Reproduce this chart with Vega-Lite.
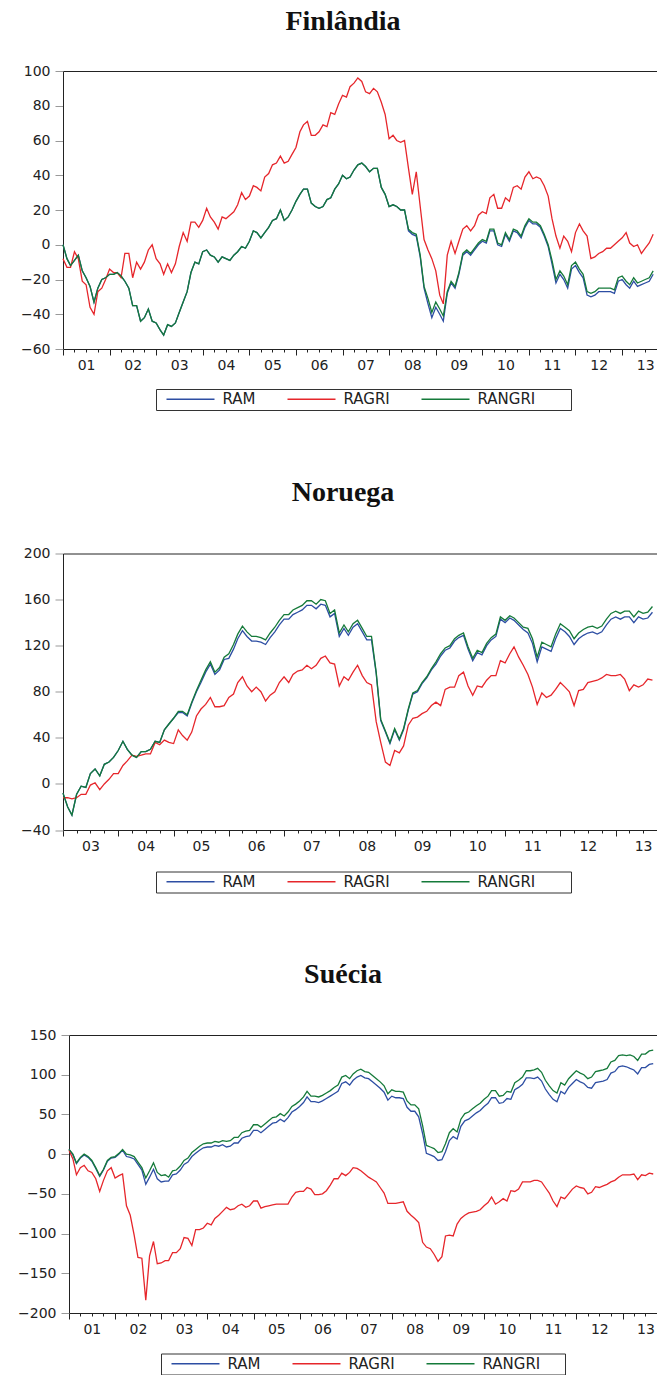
{
"$schema": "https://vega.github.io/schema/vega-lite/v6.json",
"background": "white",
"padding": {"left": 17, "top": 8, "right": 0, "bottom": 0},
"bounds": "flush",
"spacing": 204.5,
"resolve": {"scale": {"color": "independent"}, "legend": {"color": "independent"}},
"config": {
 "view": {"stroke": null},
 "axis": {"labelFont": "DejaVu Sans", "labelFontSize": 14, "labelColor": "#222", "domainColor": "#222", "domainWidth": 1, "tickColor": "#222", "grid": false, "labelFlush": false, "labelOverlap": false, "labelBound": false, "labelSeparation": 0},
 "legend": {"direction": "horizontal", "symbolType": "stroke", "symbolSize": 2304, "symbolStrokeWidth": 1.3, "clipHeight": 15, "symbolOffset": 7, "labelOffset": 7, "labelFont": "DejaVu Sans", "labelFontSize": 15, "labelColor": "#222", "columnPadding": 23, "padding": 2.5, "strokeColor": "#333", "fillColor": "white"},
 "title": {"font": "Liberation Serif", "fontSize": 28, "fontWeight": "bold", "color": "#111", "anchor": "middle", "baseline": "alphabetic", "offset": 28, "dx": -17}
},
"datasets": {
"fin": [
{"m":"2001-01-01","RAM":0,"RAGRI":-8,"RANGRI":0},
{"m":"2001-02-01","RAM":-8,"RAGRI":-13,"RANGRI":-8},
{"m":"2001-03-01","RAM":-12,"RAGRI":-13,"RANGRI":-12},
{"m":"2001-04-01","RAM":-9,"RAGRI":-4,"RANGRI":-9},
{"m":"2001-05-01","RAM":-6,"RAGRI":-8,"RANGRI":-6},
{"m":"2001-06-01","RAM":-15,"RAGRI":-21,"RANGRI":-15},
{"m":"2001-07-01","RAM":-19,"RAGRI":-23,"RANGRI":-19},
{"m":"2001-08-01","RAM":-24,"RAGRI":-36,"RANGRI":-24},
{"m":"2001-09-01","RAM":-33,"RAGRI":-40,"RANGRI":-33},
{"m":"2001-10-01","RAM":-25,"RAGRI":-27,"RANGRI":-25},
{"m":"2001-11-01","RAM":-20,"RAGRI":-25,"RANGRI":-20},
{"m":"2001-12-01","RAM":-19,"RAGRI":-20,"RANGRI":-19},
{"m":"2002-01-01","RAM":-17,"RAGRI":-14,"RANGRI":-17},
{"m":"2002-02-01","RAM":-17,"RAGRI":-16,"RANGRI":-17},
{"m":"2002-03-01","RAM":-16,"RAGRI":-16,"RANGRI":-16},
{"m":"2002-04-01","RAM":-18,"RAGRI":-19,"RANGRI":-18},
{"m":"2002-05-01","RAM":-21,"RAGRI":-5,"RANGRI":-21},
{"m":"2002-06-01","RAM":-25,"RAGRI":-5,"RANGRI":-25},
{"m":"2002-07-01","RAM":-35,"RAGRI":-19,"RANGRI":-35},
{"m":"2002-08-01","RAM":-35,"RAGRI":-10,"RANGRI":-35},
{"m":"2002-09-01","RAM":-44,"RAGRI":-14,"RANGRI":-44},
{"m":"2002-10-01","RAM":-42,"RAGRI":-10,"RANGRI":-42},
{"m":"2002-11-01","RAM":-37,"RAGRI":-3,"RANGRI":-37},
{"m":"2002-12-01","RAM":-44,"RAGRI":0,"RANGRI":-44},
{"m":"2003-01-01","RAM":-45,"RAGRI":-8,"RANGRI":-45},
{"m":"2003-02-01","RAM":-49,"RAGRI":-11,"RANGRI":-49},
{"m":"2003-03-01","RAM":-52,"RAGRI":-17,"RANGRI":-52},
{"m":"2003-04-01","RAM":-46,"RAGRI":-11,"RANGRI":-46},
{"m":"2003-05-01","RAM":-47,"RAGRI":-16,"RANGRI":-47},
{"m":"2003-06-01","RAM":-45,"RAGRI":-11,"RANGRI":-45},
{"m":"2003-07-01","RAM":-39,"RAGRI":-1,"RANGRI":-39},
{"m":"2003-08-01","RAM":-33,"RAGRI":7,"RANGRI":-33},
{"m":"2003-09-01","RAM":-27,"RAGRI":2,"RANGRI":-27},
{"m":"2003-10-01","RAM":-16,"RAGRI":13,"RANGRI":-16},
{"m":"2003-11-01","RAM":-10,"RAGRI":13,"RANGRI":-10},
{"m":"2003-12-01","RAM":-11,"RAGRI":10,"RANGRI":-11},
{"m":"2004-01-01","RAM":-4,"RAGRI":14,"RANGRI":-4},
{"m":"2004-02-01","RAM":-3,"RAGRI":21,"RANGRI":-3},
{"m":"2004-03-01","RAM":-6,"RAGRI":16,"RANGRI":-6},
{"m":"2004-04-01","RAM":-7,"RAGRI":13,"RANGRI":-7},
{"m":"2004-05-01","RAM":-10,"RAGRI":9,"RANGRI":-10},
{"m":"2004-06-01","RAM":-7,"RAGRI":16,"RANGRI":-7},
{"m":"2004-07-01","RAM":-8,"RAGRI":15,"RANGRI":-8},
{"m":"2004-08-01","RAM":-9,"RAGRI":17,"RANGRI":-9},
{"m":"2004-09-01","RAM":-6,"RAGRI":19,"RANGRI":-6},
{"m":"2004-10-01","RAM":-4,"RAGRI":23,"RANGRI":-4},
{"m":"2004-11-01","RAM":-1,"RAGRI":30,"RANGRI":-1},
{"m":"2004-12-01","RAM":-2,"RAGRI":26,"RANGRI":-2},
{"m":"2005-01-01","RAM":2,"RAGRI":28,"RANGRI":2},
{"m":"2005-02-01","RAM":8,"RAGRI":34,"RANGRI":8},
{"m":"2005-03-01","RAM":7,"RAGRI":33,"RANGRI":7},
{"m":"2005-04-01","RAM":4,"RAGRI":31,"RANGRI":4},
{"m":"2005-05-01","RAM":7,"RAGRI":39,"RANGRI":7},
{"m":"2005-06-01","RAM":10,"RAGRI":41,"RANGRI":10},
{"m":"2005-07-01","RAM":14,"RAGRI":46,"RANGRI":14},
{"m":"2005-08-01","RAM":15,"RAGRI":47,"RANGRI":15},
{"m":"2005-09-01","RAM":20,"RAGRI":51,"RANGRI":20},
{"m":"2005-10-01","RAM":14,"RAGRI":47,"RANGRI":14},
{"m":"2005-11-01","RAM":16,"RAGRI":48,"RANGRI":16},
{"m":"2005-12-01","RAM":20,"RAGRI":52,"RANGRI":20},
{"m":"2006-01-01","RAM":25,"RAGRI":56,"RANGRI":25},
{"m":"2006-02-01","RAM":29,"RAGRI":65,"RANGRI":29},
{"m":"2006-03-01","RAM":32,"RAGRI":69,"RANGRI":32},
{"m":"2006-04-01","RAM":32,"RAGRI":71,"RANGRI":32},
{"m":"2006-05-01","RAM":24,"RAGRI":63,"RANGRI":24},
{"m":"2006-06-01","RAM":22,"RAGRI":63,"RANGRI":22},
{"m":"2006-07-01","RAM":21,"RAGRI":65,"RANGRI":21},
{"m":"2006-08-01","RAM":22,"RAGRI":69,"RANGRI":22},
{"m":"2006-09-01","RAM":26,"RAGRI":68,"RANGRI":26},
{"m":"2006-10-01","RAM":27,"RAGRI":76,"RANGRI":27},
{"m":"2006-11-01","RAM":32,"RAGRI":75,"RANGRI":32},
{"m":"2006-12-01","RAM":35,"RAGRI":81,"RANGRI":35},
{"m":"2007-01-01","RAM":40,"RAGRI":86,"RANGRI":40},
{"m":"2007-02-01","RAM":38,"RAGRI":85,"RANGRI":38},
{"m":"2007-03-01","RAM":39,"RAGRI":91,"RANGRI":39},
{"m":"2007-04-01","RAM":43,"RAGRI":93,"RANGRI":43},
{"m":"2007-05-01","RAM":46,"RAGRI":96,"RANGRI":46},
{"m":"2007-06-01","RAM":47,"RAGRI":94,"RANGRI":47},
{"m":"2007-07-01","RAM":45,"RAGRI":88,"RANGRI":45},
{"m":"2007-08-01","RAM":42,"RAGRI":87,"RANGRI":42},
{"m":"2007-09-01","RAM":44,"RAGRI":90,"RANGRI":44},
{"m":"2007-10-01","RAM":44,"RAGRI":88,"RANGRI":44},
{"m":"2007-11-01","RAM":33,"RAGRI":82,"RANGRI":33},
{"m":"2007-12-01","RAM":29,"RAGRI":75,"RANGRI":29},
{"m":"2008-01-01","RAM":22,"RAGRI":61,"RANGRI":22},
{"m":"2008-02-01","RAM":23,"RAGRI":63,"RANGRI":23},
{"m":"2008-03-01","RAM":22,"RAGRI":60,"RANGRI":22},
{"m":"2008-04-01","RAM":20,"RAGRI":59,"RANGRI":20},
{"m":"2008-05-01","RAM":20,"RAGRI":60,"RANGRI":20},
{"m":"2008-06-01","RAM":8,"RAGRI":44,"RANGRI":9},
{"m":"2008-07-01","RAM":6,"RAGRI":29,"RANGRI":7},
{"m":"2008-08-01","RAM":5,"RAGRI":42,"RANGRI":6},
{"m":"2008-09-01","RAM":-7,"RAGRI":22,"RANGRI":-6},
{"m":"2008-10-01","RAM":-25,"RAGRI":3,"RANGRI":-24},
{"m":"2008-11-01","RAM":-34,"RAGRI":-3,"RANGRI":-31},
{"m":"2008-12-01","RAM":-42,"RAGRI":-8,"RANGRI":-39},
{"m":"2009-01-01","RAM":-36,"RAGRI":-15,"RANGRI":-33},
{"m":"2009-02-01","RAM":-40,"RAGRI":-29,"RANGRI":-37},
{"m":"2009-03-01","RAM":-44,"RAGRI":-34,"RANGRI":-41},
{"m":"2009-04-01","RAM":-28,"RAGRI":-6,"RANGRI":-27},
{"m":"2009-05-01","RAM":-22,"RAGRI":2,"RANGRI":-21},
{"m":"2009-06-01","RAM":-25,"RAGRI":-5,"RANGRI":-24},
{"m":"2009-07-01","RAM":-17,"RAGRI":2,"RANGRI":-16},
{"m":"2009-08-01","RAM":-6,"RAGRI":9,"RANGRI":-5},
{"m":"2009-09-01","RAM":-4,"RAGRI":11,"RANGRI":-3},
{"m":"2009-10-01","RAM":-6,"RAGRI":8,"RANGRI":-5},
{"m":"2009-11-01","RAM":-3,"RAGRI":11,"RANGRI":-2},
{"m":"2009-12-01","RAM":0,"RAGRI":17,"RANGRI":1},
{"m":"2010-01-01","RAM":2,"RAGRI":19,"RANGRI":3},
{"m":"2010-02-01","RAM":1,"RAGRI":18,"RANGRI":2},
{"m":"2010-03-01","RAM":8,"RAGRI":27,"RANGRI":9},
{"m":"2010-04-01","RAM":8,"RAGRI":29,"RANGRI":9},
{"m":"2010-05-01","RAM":0,"RAGRI":21,"RANGRI":1},
{"m":"2010-06-01","RAM":-1,"RAGRI":21,"RANGRI":0},
{"m":"2010-07-01","RAM":6,"RAGRI":27,"RANGRI":7},
{"m":"2010-08-01","RAM":2,"RAGRI":25,"RANGRI":3},
{"m":"2010-09-01","RAM":8,"RAGRI":33,"RANGRI":9},
{"m":"2010-10-01","RAM":7,"RAGRI":34,"RANGRI":8},
{"m":"2010-11-01","RAM":4,"RAGRI":32,"RANGRI":5},
{"m":"2010-12-01","RAM":10,"RAGRI":39,"RANGRI":11},
{"m":"2011-01-01","RAM":14,"RAGRI":42,"RANGRI":15},
{"m":"2011-02-01","RAM":12,"RAGRI":38,"RANGRI":13},
{"m":"2011-03-01","RAM":12,"RAGRI":39,"RANGRI":13},
{"m":"2011-04-01","RAM":10,"RAGRI":38,"RANGRI":11},
{"m":"2011-05-01","RAM":5,"RAGRI":34,"RANGRI":6},
{"m":"2011-06-01","RAM":-1,"RAGRI":28,"RANGRI":0},
{"m":"2011-07-01","RAM":-11,"RAGRI":15,"RANGRI":-9},
{"m":"2011-08-01","RAM":-22,"RAGRI":5,"RANGRI":-20},
{"m":"2011-09-01","RAM":-17,"RAGRI":-2,"RANGRI":-15},
{"m":"2011-10-01","RAM":-20,"RAGRI":5,"RANGRI":-18},
{"m":"2011-11-01","RAM":-25,"RAGRI":2,"RANGRI":-23},
{"m":"2011-12-01","RAM":-14,"RAGRI":-4,"RANGRI":-12},
{"m":"2012-01-01","RAM":-12,"RAGRI":7,"RANGRI":-10},
{"m":"2012-02-01","RAM":-16,"RAGRI":12,"RANGRI":-14},
{"m":"2012-03-01","RAM":-19,"RAGRI":8,"RANGRI":-17},
{"m":"2012-04-01","RAM":-29,"RAGRI":5,"RANGRI":-27},
{"m":"2012-05-01","RAM":-30,"RAGRI":-8,"RANGRI":-28},
{"m":"2012-06-01","RAM":-29,"RAGRI":-7,"RANGRI":-27},
{"m":"2012-07-01","RAM":-27,"RAGRI":-5,"RANGRI":-25},
{"m":"2012-08-01","RAM":-27,"RAGRI":-4,"RANGRI":-25},
{"m":"2012-09-01","RAM":-27,"RAGRI":-2,"RANGRI":-25},
{"m":"2012-10-01","RAM":-27,"RAGRI":-2,"RANGRI":-25},
{"m":"2012-11-01","RAM":-28,"RAGRI":0,"RANGRI":-26},
{"m":"2012-12-01","RAM":-21,"RAGRI":2,"RANGRI":-19},
{"m":"2013-01-01","RAM":-20,"RAGRI":4,"RANGRI":-18},
{"m":"2013-02-01","RAM":-23,"RAGRI":7,"RANGRI":-21},
{"m":"2013-03-01","RAM":-25,"RAGRI":1,"RANGRI":-23},
{"m":"2013-04-01","RAM":-21,"RAGRI":-1,"RANGRI":-19},
{"m":"2013-05-01","RAM":-24,"RAGRI":0,"RANGRI":-22},
{"m":"2013-06-01","RAM":-23,"RAGRI":-5,"RANGRI":-21},
{"m":"2013-07-01","RAM":-22,"RAGRI":-2,"RANGRI":-20},
{"m":"2013-08-01","RAM":-21,"RAGRI":1,"RANGRI":-19},
{"m":"2013-09-01","RAM":-17,"RAGRI":6,"RANGRI":-15}
],
"nor": [
{"m":"2003-01-01","RAM":-8,"RAGRI":-12,"RANGRI":-8},
{"m":"2003-02-01","RAM":-20,"RAGRI":-12,"RANGRI":-20},
{"m":"2003-03-01","RAM":-27,"RAGRI":-13,"RANGRI":-27},
{"m":"2003-04-01","RAM":-9,"RAGRI":-12,"RANGRI":-9},
{"m":"2003-05-01","RAM":-2,"RAGRI":-9,"RANGRI":-2},
{"m":"2003-06-01","RAM":-3,"RAGRI":-9,"RANGRI":-3},
{"m":"2003-07-01","RAM":9,"RAGRI":-1,"RANGRI":9},
{"m":"2003-08-01","RAM":13,"RAGRI":1,"RANGRI":13},
{"m":"2003-09-01","RAM":7,"RAGRI":-5,"RANGRI":7},
{"m":"2003-10-01","RAM":17,"RAGRI":0,"RANGRI":17},
{"m":"2003-11-01","RAM":19,"RAGRI":4,"RANGRI":19},
{"m":"2003-12-01","RAM":23,"RAGRI":9,"RANGRI":23},
{"m":"2004-01-01","RAM":29,"RAGRI":9,"RANGRI":29},
{"m":"2004-02-01","RAM":37,"RAGRI":16,"RANGRI":37},
{"m":"2004-03-01","RAM":30,"RAGRI":20,"RANGRI":30},
{"m":"2004-04-01","RAM":25,"RAGRI":25,"RANGRI":25},
{"m":"2004-05-01","RAM":23,"RAGRI":24,"RANGRI":23},
{"m":"2004-06-01","RAM":28,"RAGRI":25,"RANGRI":28},
{"m":"2004-07-01","RAM":28,"RAGRI":26,"RANGRI":28},
{"m":"2004-08-01","RAM":30,"RAGRI":26,"RANGRI":30},
{"m":"2004-09-01","RAM":37,"RAGRI":36,"RANGRI":37},
{"m":"2004-10-01","RAM":36,"RAGRI":34,"RANGRI":36},
{"m":"2004-11-01","RAM":47,"RAGRI":38,"RANGRI":47},
{"m":"2004-12-01","RAM":52,"RAGRI":36,"RANGRI":52},
{"m":"2005-01-01","RAM":57,"RAGRI":35,"RANGRI":57},
{"m":"2005-02-01","RAM":62,"RAGRI":47,"RANGRI":63},
{"m":"2005-03-01","RAM":62,"RAGRI":42,"RANGRI":63},
{"m":"2005-04-01","RAM":59,"RAGRI":38,"RANGRI":60},
{"m":"2005-05-01","RAM":70,"RAGRI":45,"RANGRI":71},
{"m":"2005-06-01","RAM":80,"RAGRI":59,"RANGRI":81},
{"m":"2005-07-01","RAM":88,"RAGRI":65,"RANGRI":90},
{"m":"2005-08-01","RAM":97,"RAGRI":69,"RANGRI":99},
{"m":"2005-09-01","RAM":104,"RAGRI":75,"RANGRI":106},
{"m":"2005-10-01","RAM":95,"RAGRI":67,"RANGRI":97},
{"m":"2005-11-01","RAM":99,"RAGRI":67,"RANGRI":101},
{"m":"2005-12-01","RAM":108,"RAGRI":68,"RANGRI":110},
{"m":"2006-01-01","RAM":109,"RAGRI":75,"RANGRI":113},
{"m":"2006-02-01","RAM":117,"RAGRI":78,"RANGRI":121},
{"m":"2006-03-01","RAM":126,"RAGRI":88,"RANGRI":130},
{"m":"2006-04-01","RAM":133,"RAGRI":93,"RANGRI":137},
{"m":"2006-05-01","RAM":128,"RAGRI":85,"RANGRI":132},
{"m":"2006-06-01","RAM":124,"RAGRI":80,"RANGRI":128},
{"m":"2006-07-01","RAM":124,"RAGRI":84,"RANGRI":128},
{"m":"2006-08-01","RAM":123,"RAGRI":80,"RANGRI":127},
{"m":"2006-09-01","RAM":121,"RAGRI":72,"RANGRI":125},
{"m":"2006-10-01","RAM":127,"RAGRI":77,"RANGRI":131},
{"m":"2006-11-01","RAM":132,"RAGRI":80,"RANGRI":136},
{"m":"2006-12-01","RAM":138,"RAGRI":88,"RANGRI":142},
{"m":"2007-01-01","RAM":143,"RAGRI":93,"RANGRI":147},
{"m":"2007-02-01","RAM":143,"RAGRI":88,"RANGRI":147},
{"m":"2007-03-01","RAM":147,"RAGRI":95,"RANGRI":151},
{"m":"2007-04-01","RAM":149,"RAGRI":98,"RANGRI":153},
{"m":"2007-05-01","RAM":151,"RAGRI":99,"RANGRI":155},
{"m":"2007-06-01","RAM":155,"RAGRI":103,"RANGRI":159},
{"m":"2007-07-01","RAM":155,"RAGRI":100,"RANGRI":159},
{"m":"2007-08-01","RAM":152,"RAGRI":103,"RANGRI":156},
{"m":"2007-09-01","RAM":156,"RAGRI":109,"RANGRI":160},
{"m":"2007-10-01","RAM":155,"RAGRI":111,"RANGRI":159},
{"m":"2007-11-01","RAM":145,"RAGRI":105,"RANGRI":148},
{"m":"2007-12-01","RAM":148,"RAGRI":104,"RANGRI":151},
{"m":"2008-01-01","RAM":128,"RAGRI":85,"RANGRI":131},
{"m":"2008-02-01","RAM":135,"RAGRI":93,"RANGRI":138},
{"m":"2008-03-01","RAM":129,"RAGRI":90,"RANGRI":132},
{"m":"2008-04-01","RAM":136,"RAGRI":97,"RANGRI":139},
{"m":"2008-05-01","RAM":139,"RAGRI":103,"RANGRI":142},
{"m":"2008-06-01","RAM":132,"RAGRI":94,"RANGRI":135},
{"m":"2008-07-01","RAM":125,"RAGRI":88,"RANGRI":128},
{"m":"2008-08-01","RAM":125,"RAGRI":86,"RANGRI":128},
{"m":"2008-09-01","RAM":96,"RAGRI":54,"RANGRI":97},
{"m":"2008-10-01","RAM":55,"RAGRI":36,"RANGRI":56},
{"m":"2008-11-01","RAM":45,"RAGRI":19,"RANGRI":46},
{"m":"2008-12-01","RAM":35,"RAGRI":16,"RANGRI":36},
{"m":"2009-01-01","RAM":47,"RAGRI":29,"RANGRI":48},
{"m":"2009-02-01","RAM":38,"RAGRI":27,"RANGRI":39},
{"m":"2009-03-01","RAM":47,"RAGRI":33,"RANGRI":48},
{"m":"2009-04-01","RAM":64,"RAGRI":51,"RANGRI":65},
{"m":"2009-05-01","RAM":78,"RAGRI":57,"RANGRI":79},
{"m":"2009-06-01","RAM":80,"RAGRI":58,"RANGRI":81},
{"m":"2009-07-01","RAM":87,"RAGRI":61,"RANGRI":88},
{"m":"2009-08-01","RAM":92,"RAGRI":63,"RANGRI":93},
{"m":"2009-09-01","RAM":99,"RAGRI":68,"RANGRI":100},
{"m":"2009-10-01","RAM":104,"RAGRI":71,"RANGRI":106},
{"m":"2009-11-01","RAM":111,"RAGRI":68,"RANGRI":113},
{"m":"2009-12-01","RAM":116,"RAGRI":82,"RANGRI":118},
{"m":"2010-01-01","RAM":118,"RAGRI":84,"RANGRI":120},
{"m":"2010-02-01","RAM":124,"RAGRI":84,"RANGRI":126},
{"m":"2010-03-01","RAM":127,"RAGRI":94,"RANGRI":129},
{"m":"2010-04-01","RAM":129,"RAGRI":97,"RANGRI":131},
{"m":"2010-05-01","RAM":117,"RAGRI":85,"RANGRI":119},
{"m":"2010-06-01","RAM":107,"RAGRI":77,"RANGRI":109},
{"m":"2010-07-01","RAM":114,"RAGRI":85,"RANGRI":116},
{"m":"2010-08-01","RAM":112,"RAGRI":84,"RANGRI":114},
{"m":"2010-09-01","RAM":120,"RAGRI":90,"RANGRI":122},
{"m":"2010-10-01","RAM":125,"RAGRI":94,"RANGRI":127},
{"m":"2010-11-01","RAM":128,"RAGRI":94,"RANGRI":130},
{"m":"2010-12-01","RAM":143,"RAGRI":107,"RANGRI":145},
{"m":"2011-01-01","RAM":140,"RAGRI":105,"RANGRI":142},
{"m":"2011-02-01","RAM":144,"RAGRI":113,"RANGRI":146},
{"m":"2011-03-01","RAM":142,"RAGRI":119,"RANGRI":144},
{"m":"2011-04-01","RAM":138,"RAGRI":110,"RANGRI":140},
{"m":"2011-05-01","RAM":134,"RAGRI":103,"RANGRI":136},
{"m":"2011-06-01","RAM":131,"RAGRI":95,"RANGRI":135},
{"m":"2011-07-01","RAM":122,"RAGRI":84,"RANGRI":126},
{"m":"2011-08-01","RAM":106,"RAGRI":69,"RANGRI":110},
{"m":"2011-09-01","RAM":119,"RAGRI":79,"RANGRI":123},
{"m":"2011-10-01","RAM":117,"RAGRI":75,"RANGRI":121},
{"m":"2011-11-01","RAM":115,"RAGRI":77,"RANGRI":119},
{"m":"2011-12-01","RAM":126,"RAGRI":82,"RANGRI":130},
{"m":"2012-01-01","RAM":135,"RAGRI":88,"RANGRI":139},
{"m":"2012-02-01","RAM":132,"RAGRI":84,"RANGRI":136},
{"m":"2012-03-01","RAM":128,"RAGRI":80,"RANGRI":133},
{"m":"2012-04-01","RAM":121,"RAGRI":68,"RANGRI":126},
{"m":"2012-05-01","RAM":126,"RAGRI":81,"RANGRI":131},
{"m":"2012-06-01","RAM":129,"RAGRI":82,"RANGRI":134},
{"m":"2012-07-01","RAM":131,"RAGRI":88,"RANGRI":136},
{"m":"2012-08-01","RAM":132,"RAGRI":89,"RANGRI":137},
{"m":"2012-09-01","RAM":130,"RAGRI":90,"RANGRI":135},
{"m":"2012-10-01","RAM":132,"RAGRI":92,"RANGRI":137},
{"m":"2012-11-01","RAM":138,"RAGRI":95,"RANGRI":143},
{"m":"2012-12-01","RAM":143,"RAGRI":94,"RANGRI":148},
{"m":"2013-01-01","RAM":145,"RAGRI":94,"RANGRI":150},
{"m":"2013-02-01","RAM":143,"RAGRI":95,"RANGRI":148},
{"m":"2013-03-01","RAM":145,"RAGRI":91,"RANGRI":150},
{"m":"2013-04-01","RAM":145,"RAGRI":81,"RANGRI":150},
{"m":"2013-05-01","RAM":140,"RAGRI":86,"RANGRI":145},
{"m":"2013-06-01","RAM":145,"RAGRI":84,"RANGRI":150},
{"m":"2013-07-01","RAM":143,"RAGRI":86,"RANGRI":148},
{"m":"2013-08-01","RAM":144,"RAGRI":91,"RANGRI":149},
{"m":"2013-09-01","RAM":149,"RAGRI":90,"RANGRI":154}
],
"sue": [
{"m":"2001-01-01","RAM":6,"RAGRI":5,"RANGRI":6},
{"m":"2001-02-01","RAM":-1,"RAGRI":-6,"RANGRI":0},
{"m":"2001-03-01","RAM":-12,"RAGRI":-26,"RANGRI":-11},
{"m":"2001-04-01","RAM":-5,"RAGRI":-17,"RANGRI":-4},
{"m":"2001-05-01","RAM":-1,"RAGRI":-14,"RANGRI":0},
{"m":"2001-06-01","RAM":-4,"RAGRI":-21,"RANGRI":-3},
{"m":"2001-07-01","RAM":-9,"RAGRI":-23,"RANGRI":-8},
{"m":"2001-08-01","RAM":-18,"RAGRI":-31,"RANGRI":-17},
{"m":"2001-09-01","RAM":-28,"RAGRI":-47,"RANGRI":-27},
{"m":"2001-10-01","RAM":-20,"RAGRI":-33,"RANGRI":-19},
{"m":"2001-11-01","RAM":-9,"RAGRI":-21,"RANGRI":-8},
{"m":"2001-12-01","RAM":-5,"RAGRI":-17,"RANGRI":-4},
{"m":"2002-01-01","RAM":-4,"RAGRI":-30,"RANGRI":-3},
{"m":"2002-02-01","RAM":0,"RAGRI":-27,"RANGRI":1},
{"m":"2002-03-01","RAM":5,"RAGRI":-25,"RANGRI":6},
{"m":"2002-04-01","RAM":-3,"RAGRI":-65,"RANGRI":0},
{"m":"2002-05-01","RAM":-4,"RAGRI":-77,"RANGRI":-1},
{"m":"2002-06-01","RAM":-6,"RAGRI":-102,"RANGRI":-3},
{"m":"2002-07-01","RAM":-13,"RAGRI":-130,"RANGRI":-10},
{"m":"2002-08-01","RAM":-20,"RAGRI":-131,"RANGRI":-17},
{"m":"2002-09-01","RAM":-38,"RAGRI":-184,"RANGRI":-30},
{"m":"2002-10-01","RAM":-29,"RAGRI":-128,"RANGRI":-21},
{"m":"2002-11-01","RAM":-19,"RAGRI":-110,"RANGRI":-11},
{"m":"2002-12-01","RAM":-31,"RAGRI":-138,"RANGRI":-23},
{"m":"2003-01-01","RAM":-35,"RAGRI":-137,"RANGRI":-27},
{"m":"2003-02-01","RAM":-34,"RAGRI":-134,"RANGRI":-26},
{"m":"2003-03-01","RAM":-34,"RAGRI":-134,"RANGRI":-29},
{"m":"2003-04-01","RAM":-26,"RAGRI":-124,"RANGRI":-21},
{"m":"2003-05-01","RAM":-25,"RAGRI":-124,"RANGRI":-20},
{"m":"2003-06-01","RAM":-20,"RAGRI":-119,"RANGRI":-15},
{"m":"2003-07-01","RAM":-13,"RAGRI":-105,"RANGRI":-8},
{"m":"2003-08-01","RAM":-10,"RAGRI":-106,"RANGRI":-5},
{"m":"2003-09-01","RAM":-3,"RAGRI":-115,"RANGRI":2},
{"m":"2003-10-01","RAM":1,"RAGRI":-95,"RANGRI":6},
{"m":"2003-11-01","RAM":5,"RAGRI":-95,"RANGRI":10},
{"m":"2003-12-01","RAM":8,"RAGRI":-93,"RANGRI":13},
{"m":"2004-01-01","RAM":9,"RAGRI":-87,"RANGRI":14},
{"m":"2004-02-01","RAM":9,"RAGRI":-89,"RANGRI":14},
{"m":"2004-03-01","RAM":11,"RAGRI":-81,"RANGRI":16},
{"m":"2004-04-01","RAM":10,"RAGRI":-77,"RANGRI":15},
{"m":"2004-05-01","RAM":12,"RAGRI":-72,"RANGRI":17},
{"m":"2004-06-01","RAM":9,"RAGRI":-67,"RANGRI":16},
{"m":"2004-07-01","RAM":10,"RAGRI":-70,"RANGRI":17},
{"m":"2004-08-01","RAM":14,"RAGRI":-69,"RANGRI":21},
{"m":"2004-09-01","RAM":14,"RAGRI":-65,"RANGRI":21},
{"m":"2004-10-01","RAM":20,"RAGRI":-63,"RANGRI":27},
{"m":"2004-11-01","RAM":22,"RAGRI":-67,"RANGRI":29},
{"m":"2004-12-01","RAM":23,"RAGRI":-65,"RANGRI":30},
{"m":"2005-01-01","RAM":30,"RAGRI":-59,"RANGRI":37},
{"m":"2005-02-01","RAM":30,"RAGRI":-59,"RANGRI":37},
{"m":"2005-03-01","RAM":27,"RAGRI":-68,"RANGRI":34},
{"m":"2005-04-01","RAM":31,"RAGRI":-66,"RANGRI":38},
{"m":"2005-05-01","RAM":35,"RAGRI":-65,"RANGRI":42},
{"m":"2005-06-01","RAM":39,"RAGRI":-64,"RANGRI":46},
{"m":"2005-07-01","RAM":40,"RAGRI":-63,"RANGRI":47},
{"m":"2005-08-01","RAM":44,"RAGRI":-63,"RANGRI":51},
{"m":"2005-09-01","RAM":41,"RAGRI":-63,"RANGRI":48},
{"m":"2005-10-01","RAM":46,"RAGRI":-63,"RANGRI":53},
{"m":"2005-11-01","RAM":53,"RAGRI":-54,"RANGRI":60},
{"m":"2005-12-01","RAM":56,"RAGRI":-48,"RANGRI":63},
{"m":"2006-01-01","RAM":60,"RAGRI":-47,"RANGRI":67},
{"m":"2006-02-01","RAM":65,"RAGRI":-47,"RANGRI":72},
{"m":"2006-03-01","RAM":72,"RAGRI":-42,"RANGRI":79},
{"m":"2006-04-01","RAM":66,"RAGRI":-44,"RANGRI":73},
{"m":"2006-05-01","RAM":66,"RAGRI":-51,"RANGRI":73},
{"m":"2006-06-01","RAM":65,"RAGRI":-51,"RANGRI":72},
{"m":"2006-07-01","RAM":67,"RAGRI":-50,"RANGRI":74},
{"m":"2006-08-01","RAM":70,"RAGRI":-46,"RANGRI":77},
{"m":"2006-09-01","RAM":73,"RAGRI":-39,"RANGRI":80},
{"m":"2006-10-01","RAM":76,"RAGRI":-31,"RANGRI":84},
{"m":"2006-11-01","RAM":79,"RAGRI":-31,"RANGRI":87},
{"m":"2006-12-01","RAM":89,"RAGRI":-24,"RANGRI":97},
{"m":"2007-01-01","RAM":91,"RAGRI":-27,"RANGRI":99},
{"m":"2007-02-01","RAM":87,"RAGRI":-23,"RANGRI":95},
{"m":"2007-03-01","RAM":93,"RAGRI":-17,"RANGRI":101},
{"m":"2007-04-01","RAM":97,"RAGRI":-18,"RANGRI":105},
{"m":"2007-05-01","RAM":99,"RAGRI":-21,"RANGRI":107},
{"m":"2007-06-01","RAM":96,"RAGRI":-25,"RANGRI":104},
{"m":"2007-07-01","RAM":95,"RAGRI":-29,"RANGRI":103},
{"m":"2007-08-01","RAM":91,"RAGRI":-32,"RANGRI":99},
{"m":"2007-09-01","RAM":87,"RAGRI":-35,"RANGRI":95},
{"m":"2007-10-01","RAM":83,"RAGRI":-42,"RANGRI":91},
{"m":"2007-11-01","RAM":78,"RAGRI":-49,"RANGRI":86},
{"m":"2007-12-01","RAM":68,"RAGRI":-62,"RANGRI":76},
{"m":"2008-01-01","RAM":73,"RAGRI":-62,"RANGRI":81},
{"m":"2008-02-01","RAM":71,"RAGRI":-62,"RANGRI":79},
{"m":"2008-03-01","RAM":71,"RAGRI":-61,"RANGRI":79},
{"m":"2008-04-01","RAM":70,"RAGRI":-60,"RANGRI":78},
{"m":"2008-05-01","RAM":59,"RAGRI":-72,"RANGRI":67},
{"m":"2008-06-01","RAM":54,"RAGRI":-77,"RANGRI":62},
{"m":"2008-07-01","RAM":54,"RAGRI":-81,"RANGRI":62},
{"m":"2008-08-01","RAM":47,"RAGRI":-86,"RANGRI":57},
{"m":"2008-09-01","RAM":26,"RAGRI":-111,"RANGRI":36},
{"m":"2008-10-01","RAM":1,"RAGRI":-117,"RANGRI":11},
{"m":"2008-11-01","RAM":-1,"RAGRI":-119,"RANGRI":9},
{"m":"2008-12-01","RAM":-3,"RAGRI":-126,"RANGRI":7},
{"m":"2009-01-01","RAM":-8,"RAGRI":-135,"RANGRI":2},
{"m":"2009-02-01","RAM":-7,"RAGRI":-129,"RANGRI":3},
{"m":"2009-03-01","RAM":3,"RAGRI":-103,"RANGRI":13},
{"m":"2009-04-01","RAM":17,"RAGRI":-102,"RANGRI":27},
{"m":"2009-05-01","RAM":22,"RAGRI":-103,"RANGRI":32},
{"m":"2009-06-01","RAM":19,"RAGRI":-88,"RANGRI":28},
{"m":"2009-07-01","RAM":35,"RAGRI":-81,"RANGRI":44},
{"m":"2009-08-01","RAM":42,"RAGRI":-77,"RANGRI":51},
{"m":"2009-09-01","RAM":44,"RAGRI":-74,"RANGRI":53},
{"m":"2009-10-01","RAM":48,"RAGRI":-73,"RANGRI":57},
{"m":"2009-11-01","RAM":52,"RAGRI":-72,"RANGRI":61},
{"m":"2009-12-01","RAM":55,"RAGRI":-70,"RANGRI":64},
{"m":"2010-01-01","RAM":60,"RAGRI":-65,"RANGRI":69},
{"m":"2010-02-01","RAM":64,"RAGRI":-61,"RANGRI":73},
{"m":"2010-03-01","RAM":71,"RAGRI":-54,"RANGRI":80},
{"m":"2010-04-01","RAM":71,"RAGRI":-63,"RANGRI":80},
{"m":"2010-05-01","RAM":64,"RAGRI":-60,"RANGRI":73},
{"m":"2010-06-01","RAM":65,"RAGRI":-56,"RANGRI":74},
{"m":"2010-07-01","RAM":70,"RAGRI":-59,"RANGRI":79},
{"m":"2010-08-01","RAM":69,"RAGRI":-46,"RANGRI":78},
{"m":"2010-09-01","RAM":81,"RAGRI":-47,"RANGRI":90},
{"m":"2010-10-01","RAM":84,"RAGRI":-44,"RANGRI":93},
{"m":"2010-11-01","RAM":88,"RAGRI":-35,"RANGRI":97},
{"m":"2010-12-01","RAM":96,"RAGRI":-35,"RANGRI":105},
{"m":"2011-01-01","RAM":96,"RAGRI":-35,"RANGRI":105},
{"m":"2011-02-01","RAM":95,"RAGRI":-33,"RANGRI":106},
{"m":"2011-03-01","RAM":97,"RAGRI":-33,"RANGRI":108},
{"m":"2011-04-01","RAM":92,"RAGRI":-35,"RANGRI":103},
{"m":"2011-05-01","RAM":82,"RAGRI":-42,"RANGRI":93},
{"m":"2011-06-01","RAM":75,"RAGRI":-49,"RANGRI":86},
{"m":"2011-07-01","RAM":69,"RAGRI":-59,"RANGRI":80},
{"m":"2011-08-01","RAM":66,"RAGRI":-66,"RANGRI":77},
{"m":"2011-09-01","RAM":79,"RAGRI":-54,"RANGRI":90},
{"m":"2011-10-01","RAM":76,"RAGRI":-56,"RANGRI":87},
{"m":"2011-11-01","RAM":84,"RAGRI":-50,"RANGRI":95},
{"m":"2011-12-01","RAM":89,"RAGRI":-44,"RANGRI":100},
{"m":"2012-01-01","RAM":94,"RAGRI":-40,"RANGRI":105},
{"m":"2012-02-01","RAM":91,"RAGRI":-42,"RANGRI":102},
{"m":"2012-03-01","RAM":89,"RAGRI":-43,"RANGRI":100},
{"m":"2012-04-01","RAM":84,"RAGRI":-50,"RANGRI":95},
{"m":"2012-05-01","RAM":83,"RAGRI":-48,"RANGRI":97},
{"m":"2012-06-01","RAM":90,"RAGRI":-41,"RANGRI":104},
{"m":"2012-07-01","RAM":91,"RAGRI":-42,"RANGRI":105},
{"m":"2012-08-01","RAM":92,"RAGRI":-40,"RANGRI":106},
{"m":"2012-09-01","RAM":94,"RAGRI":-38,"RANGRI":108},
{"m":"2012-10-01","RAM":102,"RAGRI":-35,"RANGRI":116},
{"m":"2012-11-01","RAM":104,"RAGRI":-33,"RANGRI":118},
{"m":"2012-12-01","RAM":110,"RAGRI":-29,"RANGRI":124},
{"m":"2013-01-01","RAM":111,"RAGRI":-26,"RANGRI":125},
{"m":"2013-02-01","RAM":110,"RAGRI":-26,"RANGRI":124},
{"m":"2013-03-01","RAM":108,"RAGRI":-26,"RANGRI":125},
{"m":"2013-04-01","RAM":106,"RAGRI":-25,"RANGRI":123},
{"m":"2013-05-01","RAM":101,"RAGRI":-32,"RANGRI":118},
{"m":"2013-06-01","RAM":109,"RAGRI":-26,"RANGRI":126},
{"m":"2013-07-01","RAM":109,"RAGRI":-27,"RANGRI":126},
{"m":"2013-08-01","RAM":113,"RAGRI":-24,"RANGRI":130},
{"m":"2013-09-01","RAM":114,"RAGRI":-25,"RANGRI":131}
]
},
"vconcat": [
{
 "title": {"text": "Finlândia", "offset": 28},
 "width": 594, "height": 278,
 "data": {"name": "fin"},
 "transform": [{"fold": ["RAM", "RAGRI", "RANGRI"], "as": ["serie", "valor"]}],
 "layer": [
  {"mark": {"type": "line", "strokeWidth": 1.3},
   "encoding": {
    "x": {"field": "m", "type": "temporal", "scale": {"type": "utc", "domain": [{"year": 2001, "month": 1, "date": 1, "utc": true}, {"year": 2013, "month": 10, "date": 1, "utc": true}]},
      "axis": {"orient": "bottom", "title": null, "tickCount": {"interval": "month", "step": 3}, "tickSize": {"condition": {"test": "utcmonth(datum.value) == 0", "value": 6}, "value": 3}, "labelExpr": "utcmonth(datum.value) == 6 ? utcFormat(datum.value, '%y') : ''", "labelPadding": 6, "labelOverlap": false}},
    "y": {"field": "valor", "type": "quantitative", "scale": {"domain": [-60, 100], "nice": false, "zero": false},
      "axis": {"orient": "left", "title": null, "values": [-60, -40, -20, 0, 20, 40, 60, 80, 100], "tickSize": 8, "tickColor": "#999", "labelPadding": 5, "labelOverlap": false, "labelSeparation": 0}},
    "color": {"field": "serie", "type": "nominal", "scale": {"domain": ["RAM", "RAGRI", "RANGRI"], "range": ["#2d4ea3", "#e6262b", "#157a3a"]},
      "legend": {"orient": "none", "legendX": 93, "legendY": 318, "title": null, "labelExpr": "datum.label == 'RANGRI' ? 'RANGRI\u2800\u2800\u2800' : datum.label"}}
   }},
  {"mark": {"type": "rule", "strokeOpacity": 0},
   "encoding": {
    "x": {"field": "m", "type": "temporal", "axis": {"orient": "top", "title": null, "ticks": false, "labels": false, "domain": true}}
   }}
 ],
 "resolve": {"axis": {"x": "independent"}}
},
{
 "title": {"text": "Noruega", "offset": 39.5},
 "width": 594, "height": 276.5,
 "data": {"name": "nor"},
 "transform": [{"fold": ["RAM", "RAGRI", "RANGRI"], "as": ["serie", "valor"]}],
 "layer": [
  {"mark": {"type": "line", "strokeWidth": 1.3},
   "encoding": {
    "x": {"field": "m", "type": "temporal", "scale": {"type": "utc", "domain": [{"year": 2003, "month": 1, "date": 1, "utc": true}, {"year": 2013, "month": 10, "date": 1, "utc": true}]},
      "axis": {"orient": "bottom", "title": null, "tickCount": {"interval": "month", "step": 3}, "tickSize": {"condition": {"test": "utcmonth(datum.value) == 0", "value": 6}, "value": 3}, "labelExpr": "utcmonth(datum.value) == 6 ? utcFormat(datum.value, '%y') : ''", "labelPadding": 6, "labelOverlap": false}},
    "y": {"field": "valor", "type": "quantitative", "scale": {"domain": [-40, 200], "nice": false, "zero": false},
      "axis": {"orient": "left", "title": null, "values": [-40, 0, 40, 80, 120, 160, 200], "tickSize": 8, "tickColor": "#999", "labelPadding": 5, "labelOverlap": false, "labelSeparation": 0}},
    "color": {"field": "serie", "type": "nominal", "scale": {"domain": ["RAM", "RAGRI", "RANGRI"], "range": ["#2d4ea3", "#e6262b", "#157a3a"]},
      "legend": {"orient": "none", "legendX": 93, "legendY": 318, "title": null, "labelExpr": "datum.label == 'RANGRI' ? 'RANGRI\u2800\u2800\u2800' : datum.label"}}
   }},
  {"mark": {"type": "rule", "strokeOpacity": 0},
   "encoding": {
    "x": {"field": "m", "type": "temporal", "axis": {"orient": "top", "title": null, "ticks": false, "labels": false, "domain": true}}
   }}
 ],
 "resolve": {"axis": {"x": "independent"}}
},
{
 "title": {"text": "Suécia", "offset": 39.5},
 "width": 594, "height": 278,
 "data": {"name": "sue"},
 "transform": [{"fold": ["RAM", "RAGRI", "RANGRI"], "as": ["serie", "valor"]}],
 "layer": [
  {"mark": {"type": "line", "strokeWidth": 1.3},
   "encoding": {
    "x": {"field": "m", "type": "temporal", "scale": {"type": "utc", "range": [6, 594], "domain": [{"year": 2001, "month": 1, "date": 1, "utc": true}, {"year": 2013, "month": 10, "date": 1, "utc": true}]},
      "axis": {"orient": "bottom", "title": null, "tickCount": {"interval": "month", "step": 3}, "tickSize": {"condition": {"test": "utcmonth(datum.value) == 0", "value": 6}, "value": 3}, "labelExpr": "utcmonth(datum.value) == 6 ? utcFormat(datum.value, '%y') : ''", "labelPadding": 6, "labelOverlap": false}},
    "y": {"field": "valor", "type": "quantitative", "scale": {"domain": [-200, 150], "nice": false, "zero": false},
      "axis": {"orient": "left", "title": null, "offset": -6, "values": [-200, -150, -100, -50, 0, 50, 100, 150], "tickSize": 8, "tickColor": "#999", "labelPadding": 5, "labelOverlap": false, "labelSeparation": 0}},
    "color": {"field": "serie", "type": "nominal", "scale": {"domain": ["RAM", "RAGRI", "RANGRI"], "range": ["#2d4ea3", "#e6262b", "#157a3a"]},
      "legend": {"orient": "none", "legendX": 98, "legendY": 318.5, "title": null, "labelExpr": "datum.label == 'RANGRI' ? 'RANGRI\u2800\u2800' : datum.label"}}
   }},
  {"mark": {"type": "rule", "strokeOpacity": 0},
   "encoding": {
    "x": {"field": "m", "type": "temporal", "axis": {"orient": "top", "title": null, "ticks": false, "labels": false, "domain": true}}
   }}
 ],
 "resolve": {"axis": {"x": "independent"}}
}
]
}
